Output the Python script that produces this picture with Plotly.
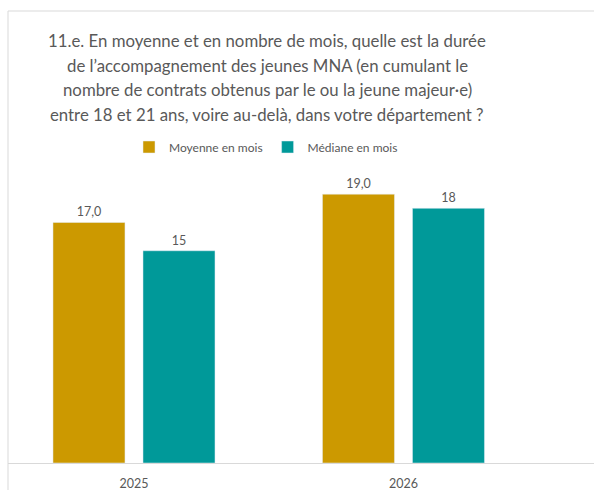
import plotly.graph_objects as go

categories = ["2025", "2026"]
moyenne = [17.0, 19.0]
mediane = [15, 18]
moyenne_labels = ["17,0", "19,0"]
mediane_labels = ["15", "18"]
series_names = ["Moyenne en mois", "Médiane en mois"]
title_lines = [
    "11.e. En moyenne et en nombre de mois, quelle est la durée",
    "de l’accompagnement des jeunes MNA (en cumulant le",
    "nombre de contrats obtenus par le ou la jeune majeur·e)",
    "entre 18 et 21 ans, voire au-delà, dans votre département ?",
]

GOLD = "#CC9900"
TEAL = "#009999"
GRAY = "#595959"
FONT = "Lato, Noto Sans, sans-serif"

W, H = 594, 490
ML, MR, MT, MB = 8, 0, 180, 27
plot_h = H - MT - MB
plot_w = W - ML - MR

def py(p):
    return (H - MB - p) / plot_h

def px(p):
    return (p - ML) / plot_w

fig = go.Figure()
fig.add_trace(go.Bar(x=categories, y=moyenne, name=series_names[0], marker_color=GOLD,
                     text=moyenne_labels, textposition="outside",
                     textfont=dict(size=12.5, color=GRAY, family=FONT), cliponaxis=False))
fig.add_trace(go.Bar(x=categories, y=mediane, name=series_names[1], marker_color=TEAL,
                     text=mediane_labels, textposition="outside",
                     textfont=dict(size=12.5, color=GRAY, family=FONT), cliponaxis=False))

annotations = []
for i, line in enumerate(title_lines):
    annotations.append(dict(text=line, x=px(267), y=py(40 + 25 * i), xref="paper", yref="paper",
                            xanchor="center", yanchor="middle", showarrow=False,
                            font=dict(size=16.8, color=GRAY, family=FONT)))

fig.update_layout(
    width=W, height=H,
    margin=dict(l=ML, r=MR, t=MT, b=MB),
    paper_bgcolor="white", plot_bgcolor="white",
    barmode="group", bargap=0.332, bargroupgap=0.2,
    font=dict(family=FONT, color=GRAY),
    showlegend=True,
    legend=dict(orientation="h", x=px(266), xanchor="center", y=py(147), yanchor="middle",
                font=dict(size=12, color=GRAY, family=FONT), itemwidth=30,
                bgcolor="rgba(0,0,0,0)"),
    xaxis=dict(range=[-0.4675, 1.707], showline=True, linecolor="#D9D9D9", linewidth=1,
               showgrid=False, ticks="", tickfont=dict(size=12.5, color=GRAY, family=FONT),
               ticklabelstandoff=9, zeroline=False, fixedrange=True),
    yaxis=dict(range=[0, 20], visible=False, showgrid=False, zeroline=False),
    annotations=annotations,
    shapes=[dict(type="rect", xref="paper", yref="paper", x0=0, x1=1.2, y0=-0.5, y1=py(11),
                 line=dict(color="#D9D9D9", width=1), fillcolor="rgba(0,0,0,0)", layer="below")],
)

fig.write_html("out.html", config={"displayModeBar": False},
               post_script="document.body.style.margin='0';document.body.style.overflow='hidden';")
